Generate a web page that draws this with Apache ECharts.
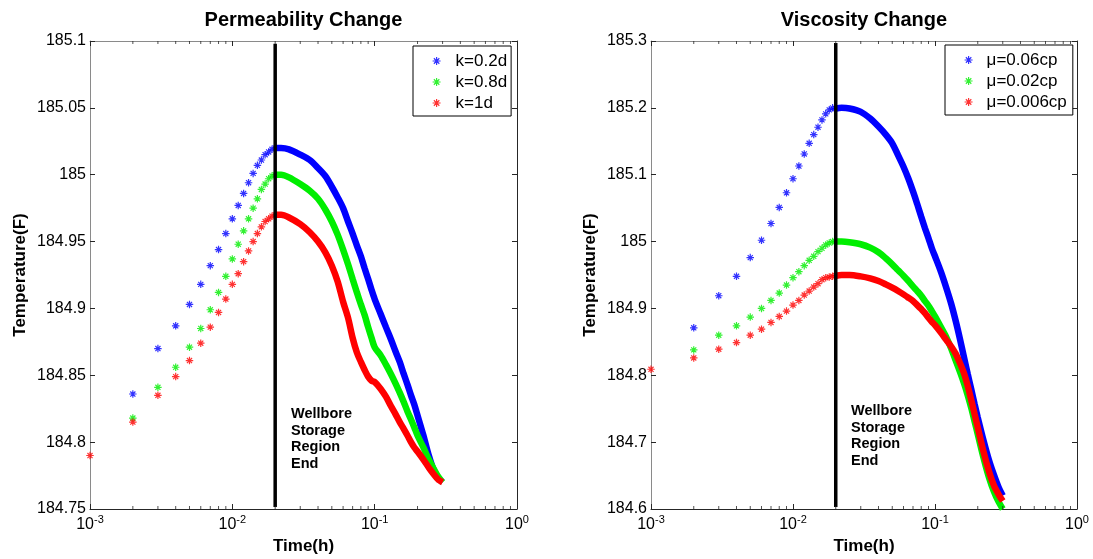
<!DOCTYPE html>
<html><head><meta charset="utf-8">
<script src="https://cdn.jsdelivr.net/npm/echarts@6/dist/echarts.min.js"></script>
<style>html,body{margin:0;padding:0;background:#fff}#c{width:1093px;height:559px}</style>
</head><body><div id="c"></div>
<script>
// ---------------- DATA ----------------
const tEarly = [0.001,0.002,0.003,0.004,0.005,0.006,0.007,0.008,0.009,0.010,0.011,0.012,0.013,0.014,0.015,0.016,0.017,0.018,0.019,0.020];
const tDense = [0.02,0.022,0.025,0.03,0.035,0.04,0.045,0.05,0.055,0.06,0.065,0.07,0.075,0.08,0.085,0.09,0.095,0.1,0.11,0.12,0.13,0.14,0.15,0.16,0.17,0.18,0.19,0.2,0.22,0.24,0.26,0.28,0.3];

const permNames = ['k=0.2d','k=0.8d','k=1d'];
const permBlueEarly  = [null,184.836,184.870,184.887,184.903,184.918,184.932,184.944,184.956,184.967,184.977,184.986,184.994,185.001,185.007,185.011,185.015,185.017,185.019,185.020];
const permGreenEarly = [null,184.818,184.841,184.856,184.871,184.885,184.899,184.912,184.924,184.937,184.948,184.958,184.967,184.975,184.982,184.989,184.993,184.997,184.999,185.000];
const permRedEarly   = [184.790,184.815,184.835,184.849,184.861,184.874,184.886,184.897,184.907,184.918,184.926,184.935,184.943,184.950,184.956,184.961,184.965,184.967,184.969,184.970];
const permBlueDense  = [185.020,185.020,185.019,185.015,185.011,185.005,184.999,184.991,184.983,184.975,184.965,184.956,184.947,184.939,184.930,184.922,184.914,184.907,184.896,184.886,184.877,184.868,184.860,184.851,184.843,184.835,184.828,184.820,184.805,184.790,184.779,184.773,184.770];
const permGreenDense = [185.000,185.000,184.998,184.993,184.988,184.982,184.974,184.965,184.955,184.944,184.933,184.922,184.912,184.903,184.895,184.886,184.878,184.871,184.865,184.858,184.851,184.844,184.837,184.830,184.823,184.817,184.811,184.805,184.796,184.787,184.780,184.774,184.770];
const permRedDense   = [184.970,184.970,184.968,184.963,184.957,184.950,184.942,184.932,184.920,184.905,184.893,184.878,184.867,184.860,184.854,184.849,184.846,184.845,184.840,184.834,184.827,184.821,184.815,184.810,184.805,184.800,184.796,184.793,184.787,184.781,184.776,184.772,184.770];
const permWall = [185.098, 184.7515];

const viscNames = ['\u03bc=0.06cp','\u03bc=0.02cp','\u03bc=0.006cp'];
const viscBlueEarly  = [null,184.871,184.919,184.948,184.976,185.002,185.027,185.051,185.073,185.094,185.113,185.131,185.147,185.160,185.171,185.182,185.191,185.197,185.200,185.199];
const viscGreenEarly = [null,184.838,184.860,184.874,184.887,184.900,184.912,184.923,184.935,184.946,184.955,184.964,184.972,184.978,184.985,184.990,184.995,184.998,185.000,185.000];
const viscRedEarly   = [184.809,184.826,184.839,184.849,184.860,184.869,184.879,184.888,184.896,184.905,184.912,184.920,184.926,184.932,184.937,184.943,184.946,184.947,184.948,184.949];
const viscBlueDense  = [185.199,185.200,185.199,185.194,185.184,185.172,185.160,185.147,185.129,185.112,185.094,185.075,185.056,185.037,185.020,185.005,184.990,184.978,184.955,184.931,184.907,184.881,184.854,184.827,184.802,184.779,184.757,184.737,184.702,184.673,184.651,184.633,184.620];
const viscGreenDense = [185.000,185.000,184.999,184.996,184.991,184.984,184.975,184.966,184.957,184.949,184.941,184.933,184.926,184.919,184.911,184.904,184.896,184.888,184.872,184.857,184.840,184.822,184.805,184.788,184.770,184.751,184.731,184.712,184.676,184.647,184.626,184.611,184.600];
const viscRedDense   = [184.949,184.950,184.950,184.948,184.945,184.941,184.936,184.931,184.926,184.921,184.916,184.911,184.905,184.899,184.893,184.886,184.880,184.875,184.864,184.853,184.843,184.832,184.818,184.803,184.784,184.763,184.742,184.722,184.685,184.656,184.635,184.622,184.612];
const viscWall = [185.297, 184.603];

const yTicksPerm = ['184.75','184.8','184.85','184.9','184.95','185','185.05','185.1'];
const yTicksVisc = ['184.6','184.7','184.8','184.9','185','185.1','185.2','185.3'];
const xTickExp = ['-3','-2','-1','0'];
const wallText = 'Wellbore\nStorage\nRegion\nEnd';

// ---------------- CHART ----------------
const F = '"Liberation Sans", Arial, sans-serif';
const STAR = 'path://M5,0L5,10M0,5L10,5M1.6,1.6L8.4,8.4M8.4,1.6L1.6,8.4';
const COLORS = ['#0000ff', '#00ee00', '#ff0000'];

function pairs(ts, vs) { return ts.map((t, i) => [t, vs[i]]).filter(p => p[1] != null); }

const panels = [
  { title: 'Permeability Change', names: permNames,
    early: [permBlueEarly, permGreenEarly, permRedEarly], dense: [permBlueDense, permGreenDense, permRedDense],
    yMin: 184.75, yMax: 185.1, yStep: 0.05, yLabels: yTicksPerm, wall: permWall,
    grid: {left: 90, top: 41, width: 427, height: 468}, nameGap: 61, titleX: 303.5,
    legend: {left: 413, top: 46, padding: [4.5, 4, 2.5, 19], textPad: 10}, textX: 291, textY: 405.6 },
  { title: 'Viscosity Change', names: viscNames,
    early: [viscBlueEarly, viscGreenEarly, viscRedEarly], dense: [viscBlueDense, viscGreenDense, viscRedDense],
    yMin: 184.6, yMax: 185.3, yStep: 0.1, yLabels: yTicksVisc, wall: viscWall,
    grid: {left: 651, top: 41, width: 426, height: 468}, nameGap: 52, titleX: 864,
    legend: {left: 945, top: 45, padding: [4.5, 6, 2.5, 19], textPad: 9}, textX: 851, textY: 402.6 }
];

const minorT = [];
[-3, -2, -1].forEach(e => { for (let m = 2; m <= 9; m++) minorT.push(m * Math.pow(10, e)); });

const grid = [], xAxis = [], yAxis = [], series = [], legend = [], graphic = [];
const DARK = '#262626', GRAY = '#8a8a8a';

panels.forEach((p, gi) => {
  grid.push(Object.assign({containLabel: false, outerBoundsMode: 'none'}, p.grid));
  const xc = {type: 'log', logBase: 10, min: 0.001, max: 1, gridIndex: gi, splitLine: {show: false},
    axisTick: {show: true, inside: true, length: 5, lineStyle: {color: DARK}}};
  xAxis.push(Object.assign({}, xc, {position: 'bottom',
    axisLine: {show: true, onZero: false, lineStyle: {color: DARK, width: 1}},
    axisLabel: {margin: 5, color: '#000',
      formatter: v => '{b|10}{s|' + xTickExp[Math.round(Math.log10(v)) + 3] + '}',
      rich: {b: {fontSize: 16, fontFamily: F, color: '#000', lineHeight: 16, padding: [5, 0, 0, 0]},
             s: {fontSize: 11, fontFamily: F, color: '#000', lineHeight: 11, verticalAlign: 'top'}}},
    name: 'Time(h)', nameLocation: 'middle', nameGap: 29, nameMoveOverlap: false,
    nameTextStyle: {fontSize: 17, fontWeight: 'bold', fontFamily: F, color: '#000'}}));
  xAxis.push(Object.assign({}, xc, {position: 'top',
    axisLine: {show: true, onZero: false, lineStyle: {color: GRAY, width: 1}}, axisLabel: {show: false}}));
  const ix = 2 * gi;
  const yc = {type: 'value', gridIndex: gi, min: p.yMin, max: p.yMax, interval: p.yStep, splitLine: {show: false},
    axisTick: {show: true, inside: true, length: 5, lineStyle: {color: DARK}}};
  yAxis.push(Object.assign({}, yc, {position: 'left',
    axisLine: {show: true, onZero: false, lineStyle: {color: GRAY, width: 1}},
    axisLabel: {margin: 4, fontSize: 16, fontFamily: F, color: '#000',
      formatter: v => p.yLabels[Math.round((v - p.yMin) / p.yStep)]},
    name: 'Temperature(F)', nameLocation: 'middle', nameRotate: 90, nameGap: p.nameGap, nameMoveOverlap: false,
    nameTextStyle: {fontSize: 17, fontWeight: 'bold', fontFamily: F, color: '#000'}}));
  yAxis.push(Object.assign({}, yc, {position: 'right',
    axisLine: {show: true, onZero: false, lineStyle: {color: DARK, width: 1}}, axisLabel: {show: false}}));

  for (let k = 0; k < 3; k++) {
    const c = COLORS[k];
    series.push({type: 'scatter', name: p.names[k], xAxisIndex: ix, yAxisIndex: ix,
      symbol: STAR, symbolSize: 7.5, itemStyle: {color: c, borderColor: c, borderWidth: 1.2},
      data: pairs(tEarly, p.early[k]), z: 3 + k, silent: true});
    series.push({type: 'line', name: p.names[k], xAxisIndex: ix, yAxisIndex: ix,
      symbol: 'none', showSymbol: false, smooth: 0.3,
      lineStyle: {color: c, width: 6.5}, itemStyle: {color: c},
      data: pairs(tDense, p.dense[k]), z: 3 + k, silent: true});
  }
  series.push({type: 'line', xAxisIndex: ix, yAxisIndex: ix, symbol: 'none', silent: true, z: 8,
    lineStyle: {color: '#000', width: 3.5}, data: [[0.02, p.wall[0]], [0.02, p.wall[1]]]});
  const tickStyle = {type: 'scatter', xAxisIndex: ix, yAxisIndex: ix, symbol: 'rect', symbolSize: [1, 3],
    itemStyle: {color: DARK}, silent: true, clip: false, z: 9};
  series.push(Object.assign({}, tickStyle, {symbolOffset: [0, -1.5], data: minorT.map(t => [t, p.yMin])}));
  series.push(Object.assign({}, tickStyle, {symbolOffset: [0, 1.5], data: minorT.map(t => [t, p.yMax])}));

  legend.push({
    data: p.names.map((n, k) => ({name: n, icon: STAR,
      itemStyle: {color: COLORS[k], borderColor: COLORS[k], borderWidth: 1.2}})),
    orient: 'vertical', left: p.legend.left, top: p.legend.top, padding: p.legend.padding,
    itemWidth: 8, itemHeight: 8, itemGap: 0, selectedMode: false,
    borderColor: '#000', borderWidth: 1, backgroundColor: '#fff', borderRadius: 0, z: 10,
    textStyle: {fontSize: 17, fontFamily: F, color: '#000', lineHeight: 21, padding: [0, 0, 0, p.legend.textPad]}
  });

  graphic.push({type: 'text', x: p.titleX, y: 20.5, z: 10,
    style: {text: p.title, fontSize: 20, fontWeight: 'bold', fontFamily: F, fill: '#000',
      align: 'center', verticalAlign: 'middle'}});
  graphic.push({type: 'text', x: p.textX, y: p.textY, z: 10,
    style: {text: wallText, fontSize: 14.5, fontWeight: 'bold', fontFamily: F, fill: '#000',
      lineHeight: 16.7, align: 'left', verticalAlign: 'top'}});
});

const chart = echarts.init(document.getElementById('c'), null, {renderer: 'canvas'});
chart.setOption({
  animation: false, backgroundColor: '#fff',
  grid, xAxis, yAxis, series, legend, graphic, tooltip: {show: false}
});
</script>
</body></html>
